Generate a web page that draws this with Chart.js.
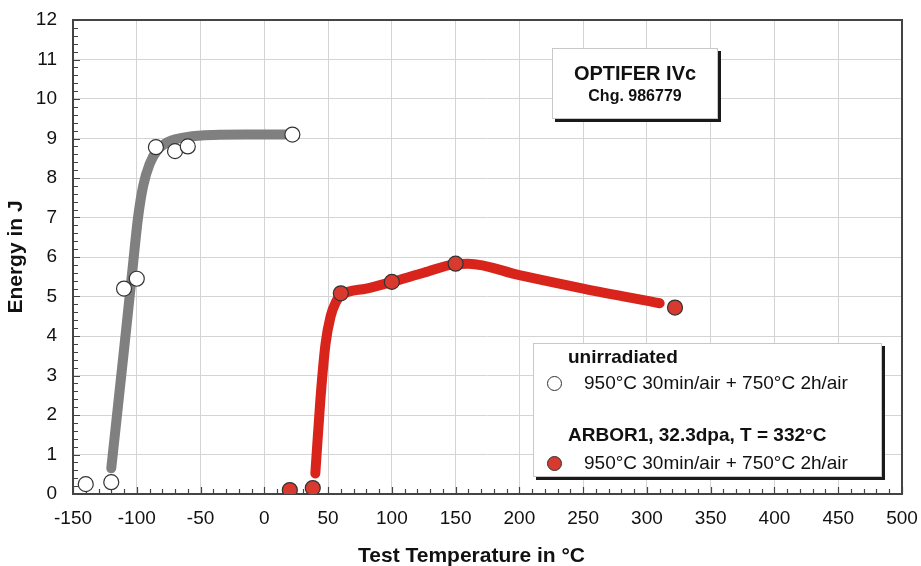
<!DOCTYPE html>
<html>
<head>
<meta charset="utf-8">
<script src="https://cdn.jsdelivr.net/npm/chart.js@4"></script>
<style>
body { margin: 0; background: #fff; font-family: "Liberation Sans", Arial, sans-serif; }
#wrap { position: relative; width: 921px; height: 566px; }
.box { position: absolute; background: #fff; border: 1px solid #c8c8c8; box-shadow: 3px 3px 0 #1a1a1a; }
.box div { position: absolute; white-space: nowrap; color: #111; }
.dot { width: 13px; height: 13px; border-radius: 50%; border: 1px solid #333; }
#xtitle { position: absolute; left: 358px; top: 543px; font-weight: bold; font-size: 21px; color: #111; white-space: nowrap; }
</style>
</head>
<body>
<div id="wrap">
  <canvas id="chart" width="921" height="566"></canvas>
  <div id="xtitle">Test Temperature in °C</div>

  <div class="box" style="left:552px;top:48px;width:164px;height:69px;">
    <div style="left:0;width:164px;top:13px;text-align:center;font-weight:bold;font-size:20px;">OPTIFER IVc</div>
    <div style="left:0;width:164px;top:38px;text-align:center;font-weight:bold;font-size:16px;">Chg. 986779</div>
  </div>

  <div class="box" style="left:533px;top:343px;width:347px;height:132px;">
    <div style="left:34px;top:2px;font-weight:bold;font-size:19px;">unirradiated</div>
    <div class="dot" style="left:13px;top:32px;background:#fff;"></div>
    <div style="left:50px;top:28px;font-size:19px;">950°C 30min/air + 750°C 2h/air</div>
    <div style="left:34px;top:80px;font-weight:bold;font-size:19px;">ARBOR1, 32.3dpa, T = 332°C</div>
    <div class="dot" style="left:13px;top:112px;background:#d93a2f;"></div>
    <div style="left:50px;top:108px;font-size:19px;">950°C 30min/air + 750°C 2h/air</div>
  </div>
</div>

<script>
// measured points
const unirrTemp = [-140, -120, -110, -100, -85, -70, -60, 22]
const unirrEnergy = [0.25, 0.3, 5.2, 5.45, 8.78, 8.68, 8.8, 9.1]
const irrTemp = [20, 38, 60, 100, 150, 322]
const irrEnergy = [0.1, 0.15, 5.08, 5.37, 5.83, 4.72]

// fitted curves
const unirrFitTemp = [-120, -110, -103, -99, -95, -90, -84, -75, -60, -40, -15, 16]
const unirrFitEnergy = [0.65, 3.65, 5.8, 7.0, 7.8, 8.35, 8.7, 8.92, 9.04, 9.09, 9.1, 9.1]
const irrFitTemp = [40, 44, 48, 52, 56, 60, 80, 100, 125, 150, 160, 200, 250, 310]
const irrFitEnergy = [0.52, 2.4, 3.8, 4.5, 4.85, 5.03, 5.2, 5.37, 5.6, 5.82, 5.83, 5.54, 5.2, 4.83]

const xTicks = [-150, -100, -50, 0, 50, 100, 150, 200, 250, 300, 350, 400, 450, 500]
const yTicks = [0, 1, 2, 3, 4, 5, 6, 7, 8, 9, 10, 11, 12]

const pts = (xs, ys) => xs.map((x, i) => ({x: x, y: ys[i]}))
const font = "'Liberation Sans', Arial, sans-serif"

// frame + small inward ticks like the original plot
const innerTicks = {
  id: 'innerTicks',
  beforeDatasetsDraw(chart) {
    const c = chart.ctx
    const a = chart.chartArea
    const xs = chart.scales.x
    const ys = chart.scales.y
    c.save()
    c.strokeStyle = '#444'
    c.lineWidth = 2
    c.strokeRect(a.left, a.top, a.right - a.left, a.bottom - a.top)
    c.lineWidth = 1.2
    c.beginPath()
    for (let v = xTicks[0]; v <= xTicks[xTicks.length - 1]; v += 10) {
      const px = Math.round(xs.getPixelForValue(v)) + 0.5
      const len = v % 50 === 0 ? 7 : 5
      c.moveTo(px, a.bottom)
      c.lineTo(px, a.bottom - len)
    }
    for (let i = 0; i <= 60; i++) {
      const py = Math.round(ys.getPixelForValue(i / 5)) + 0.5
      const len = i % 5 === 0 ? 7 : 5
      c.moveTo(a.left, py)
      c.lineTo(a.left + len, py)
    }
    c.stroke()
    c.restore()
  }
}

new Chart(document.getElementById('chart'), {
  type: 'scatter',
  data: {
    datasets: [{
      label: 'unirradiated',
      data: pts(unirrTemp, unirrEnergy),
      pointRadius: 7.5,
      pointBackgroundColor: '#fff',
      pointBorderColor: '#333',
      pointBorderWidth: 1.2,
      order: 0
    }, {
      label: 'ARBOR1',
      data: pts(irrTemp, irrEnergy),
      pointRadius: 7.5,
      pointBackgroundColor: '#d93a2f',
      pointBorderColor: '#333',
      pointBorderWidth: 1.2,
      order: 0
    }, {
      type: 'line',
      label: 'fit unirradiated',
      data: pts(unirrFitTemp, unirrFitEnergy),
      borderColor: '#808080',
      borderWidth: 10,
      borderCapStyle: 'round',
      borderJoinStyle: 'round',
      cubicInterpolationMode: 'monotone',
      pointRadius: 0,
      order: 1
    }, {
      type: 'line',
      label: 'fit ARBOR1',
      data: pts(irrFitTemp, irrFitEnergy),
      borderColor: '#d9241b',
      borderWidth: 10,
      borderCapStyle: 'round',
      borderJoinStyle: 'round',
      cubicInterpolationMode: 'monotone',
      pointRadius: 0,
      order: 1
    }]
  },
  options: {
    responsive: false,
    animation: false,
    layout: {padding: {top: 20, right: 19, left: 0, bottom: 0}},
    plugins: {legend: {display: false}, tooltip: {enabled: false}},
    scales: {
      x: {
        type: 'linear',
        min: -150,
        max: 500,
        afterBuildTicks: s => { s.ticks = xTicks.map(v => ({value: v})) },
        afterFit: s => { s.height = 72; s.paddingLeft = 0; s.paddingRight = 0 },
        grid: {color: '#d4d4d4', lineWidth: 1, drawTicks: false},
        border: {display: false},
        ticks: {color: '#111', padding: 13, font: {family: font, size: 19}}
      },
      y: {
        type: 'linear',
        min: 0,
        max: 12,
        afterBuildTicks: s => { s.ticks = yTicks.map(v => ({value: v})) },
        afterFit: s => { s.width = 73; s.paddingTop = 0; s.paddingBottom = 0 },
        grid: {color: '#d4d4d4', lineWidth: 1, drawTicks: false},
        border: {display: false},
        ticks: {color: '#111', padding: 16, font: {family: font, size: 19}},
        title: {display: true, text: 'Energy in J', color: '#111', padding: {bottom: 4}, font: {family: font, size: 21, weight: 'bold'}}
      }
    }
  },
  plugins: [innerTicks]
})
</script>
</body>
</html>
